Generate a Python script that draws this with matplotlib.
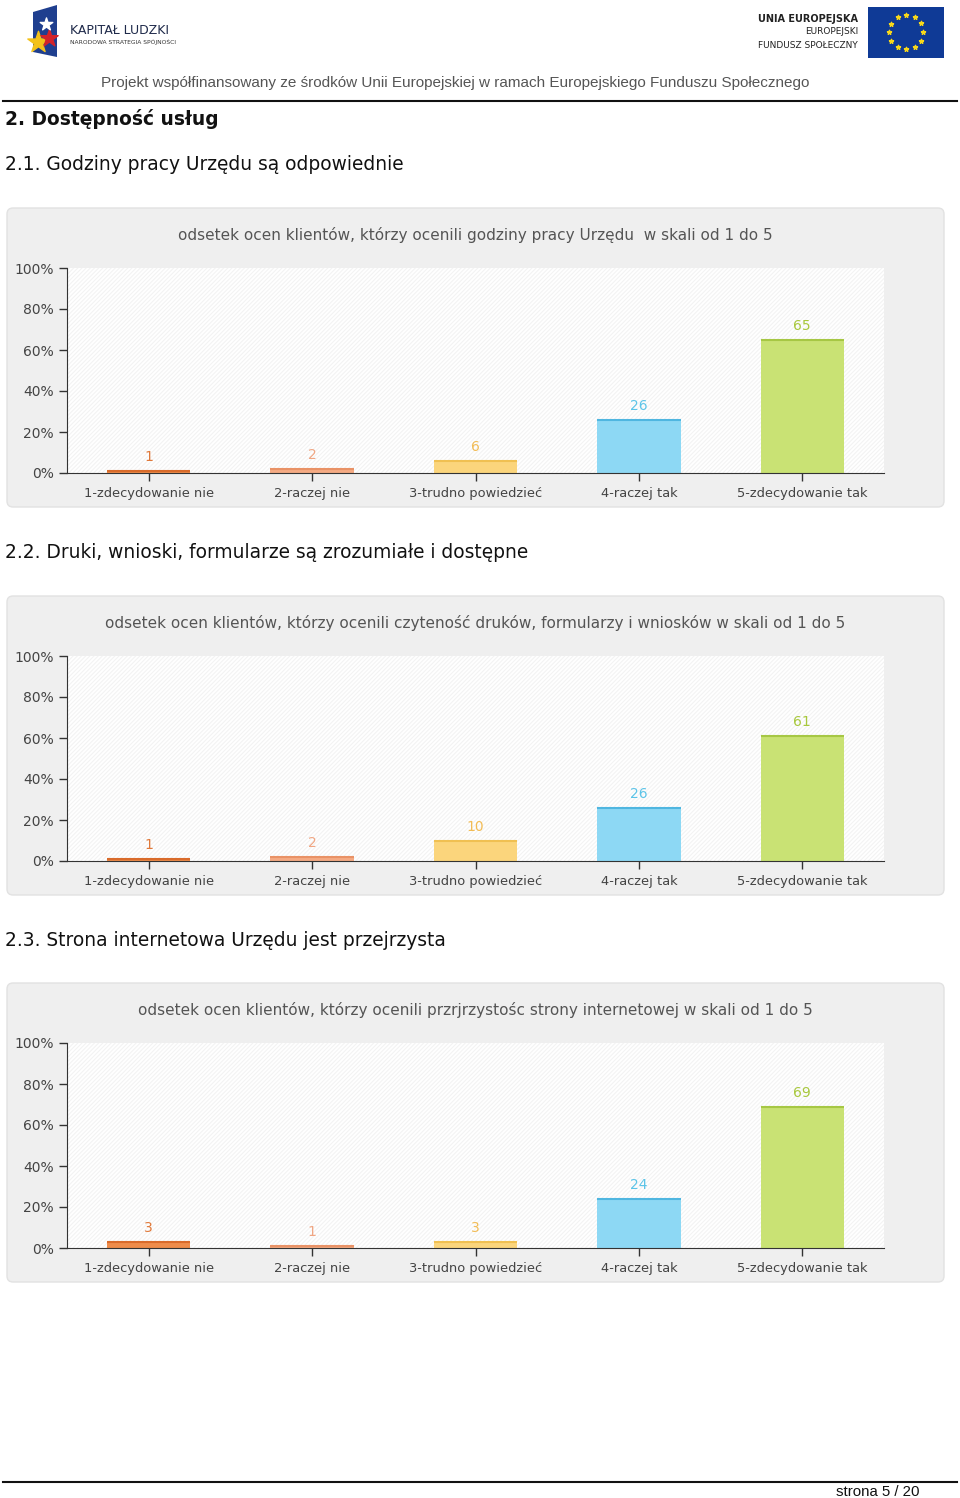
import numpy as np
import matplotlib
matplotlib.use("Agg")
import matplotlib.pyplot as plt
from matplotlib.patches import FancyBboxPatch, Rectangle, Polygon

W, H = 960, 1498

categories = ["1-zdecydowanie nie", "2-raczej nie", "3-trudno powiedzieć",
              "4-raczej tak", "5-zdecydowanie tak"]
hours_values = [1, 2, 6, 26, 65]
forms_values = [1, 2, 10, 26, 61]
website_values = [3, 1, 3, 24, 69]

section_titles = ["2.1. Godziny pracy Urzędu są odpowiednie",
                  "2.2. Druki, wnioski, formularze są zrozumiałe i dostępne",
                  "2.3. Strona internetowa Urzędu jest przejrzysta"]
chart_titles = ["odsetek ocen klientów, którzy ocenili godziny pracy Urzędu  w skali od 1 do 5",
                "odsetek ocen klientów, którzy ocenili czyteność druków, formularzy i wniosków w skali od 1 do 5",
                "odsetek ocen klientów, którzy ocenili przrjrzystośc strony internetowej w skali od 1 do 5"]
y_ticks = [0, 20, 40, 60, 80, 100]

BAR_COLORS = ["#ef8c4a", "#f5ab84", "#fbd57c", "#8dd8f4", "#c9e274"]
TOP_COLORS = ["#d96b2b", "#e99266", "#f0c052", "#4fb6e0", "#a6c744"]
LABEL_COLORS = ["#e0793a", "#f0a683", "#f2bc55", "#5cc4e8", "#a8c83c"]

plt.rcParams["hatch.linewidth"] = 0.8

fig = plt.figure(figsize=(W / 100, H / 100), dpi=100)
page = fig.add_axes([0, 0, 1, 1])
page.set_xlim(0, W)
page.set_ylim(H, 0)
page.axis("off")

# header: Kapitał Ludzki logo (rough)
page.add_patch(Polygon([[33, 12], [57, 5], [57, 57], [33, 52]], closed=True,
                       facecolor="#1f3f8f", edgecolor="none"))
page.scatter([38], [42], s=260, marker="*", color="#f4c21a", zorder=3)
page.scatter([49], [38], s=170, marker="*", color="#d2232a", zorder=3)
page.scatter([46], [24], s=90, marker="*", color="white", zorder=3)
page.text(70, 30, "KAPITAŁ LUDZKI", fontsize=9, color="#1f2a4a",
          va="center")
page.text(70, 42, "NARODOWA STRATEGIA SPÓJNOŚCI", fontsize=4.3, color="#333",
          va="center")

# EU logo
page.add_patch(Rectangle((868, 7), 76, 51, facecolor="#0f3a96", edgecolor="none"))
ang = np.linspace(0, 2 * np.pi, 13)[:-1]
page.scatter(906 + 17 * np.cos(ang), 32 + 17 * np.sin(ang), s=10, marker="*",
             color="#f8d81a", zorder=3)
page.text(858, 19, "UNIA EUROPEJSKA", fontsize=7, fontweight="bold", ha="right",
          va="center", color="#222")
page.text(858, 32, "EUROPEJSKI", fontsize=6.5, ha="right", va="center", color="#222")
page.text(858, 45, "FUNDUSZ SPOŁECZNY", fontsize=6.5, ha="right", va="center",
          color="#222")

page.text(455, 83, "Projekt współfinansowany ze środków Unii Europejskiej w ramach "
          "Europejskiego Funduszu Społecznego", fontsize=11, ha="center",
          va="center", color="#555", family="Liberation Sans")
page.plot([3, 957], [101, 101], color="#111", lw=1.5)

page.text(5, 119, "2. Dostępność usług", fontsize=13.4, fontweight="bold",
          va="center", color="#111")

# footer
page.plot([3, 957], [1482, 1482], color="#111", lw=1.5)
page.text(919, 1492, "strona 5 / 20", fontsize=10.8, ha="right", va="center",
          family="Liberation Sans", color="#111")

datasets = [hours_values, forms_values, website_values]
panel_tops = [208, 596, 983]
x = np.arange(len(categories))

for i, values in enumerate(datasets):
    top = panel_tops[i]
    page.text(5, top - 43, section_titles[i], fontsize=13.4, va="center", color="#111")
    page.add_patch(FancyBboxPatch((7, top), 937, 299,
                                  boxstyle="round,pad=0,rounding_size=6",
                                  facecolor="#efefef", edgecolor="#e2e2e2", lw=1))
    page.text(475, top + 27, chart_titles[i], fontsize=11, ha="center",
              va="center", color="#555")

    plot_top, plot_bottom = top + 60, top + 265
    ax = fig.add_axes([67 / W, 1 - plot_bottom / H, 817 / W, (plot_bottom - plot_top) / H])
    ax.set_facecolor("white")
    ax.add_patch(Rectangle((0, 0), 1, 1, transform=ax.transAxes, facecolor="none",
                           edgecolor="#f3f3f3", hatch="////////", lw=0, zorder=0))
    ax.bar(x, values, width=0.51, color=BAR_COLORS, zorder=2)
    ax.hlines(values, x - 0.255, x + 0.255, colors=TOP_COLORS, lw=1.5, zorder=3)
    for xi, v, c in zip(x, values, LABEL_COLORS):
        ax.annotate(str(v), (xi, v), xytext=(0, 5), textcoords="offset points",
                    ha="center", va="bottom", fontsize=10, color=c)
    ax.set_xlim(-0.5, 4.5)
    ax.set_ylim(0, 100)
    ax.set_yticks(y_ticks)
    ax.set_yticklabels([f"{t}%" for t in y_ticks])
    ax.set_xticks(x)
    ax.set_xticklabels(categories, fontsize=9.4)
    for s in ["top", "right"]:
        ax.spines[s].set_visible(False)
    ax.spines["left"].set_color("#333")
    ax.spines["bottom"].set_color("#333")
    ax.tick_params(axis="both", colors="#333", labelcolor="#444", labelsize=10,
                   length=6, width=1)
    ax.tick_params(axis="x", pad=4, labelsize=9.4)

plt.savefig("out.png", dpi=100)
